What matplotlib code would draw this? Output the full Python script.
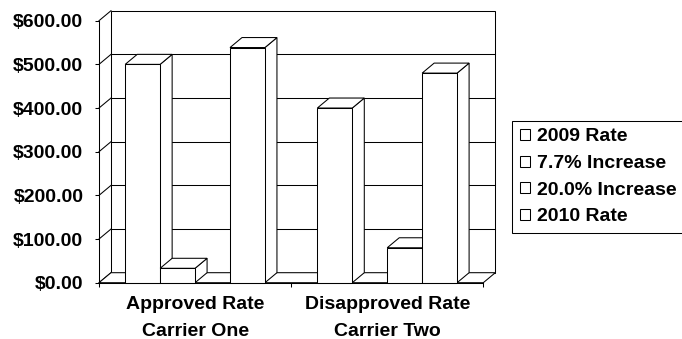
import matplotlib
matplotlib.use("Agg")
import matplotlib.pyplot as plt
from matplotlib.patches import Polygon, Rectangle, Patch
from matplotlib.font_manager import FontProperties

# ---- data -------------------------------------------------------------
categories = [["Approved Rate", "Carrier One"], ["Disapproved Rate", "Carrier Two"]]
series_names = ["2009 Rate", "7.7% Increase", "20.0% Increase", "2010 Rate"]
rate_2009 = [500, 400]
increase_7_7 = [33, 0]
increase_20_0 = [0, 80]
rate_2010 = [538.5, 480]
y_ticks = [0, 100, 200, 300, 400, 500, 600]

series_values = [rate_2009, increase_7_7, increase_20_0, rate_2010]

# ---- figure / axes ----------------------------------------------------
W, H, DPI = 682, 339, 100
fig = plt.figure(figsize=(W / DPI, H / DPI), dpi=DPI)
fig.patch.set_facecolor("white")
ax = fig.add_axes([99 / W, 1 - 282.7 / H, 384.3 / W, 262 / H])
ax.set_xlim(0, len(categories))
ax.set_ylim(y_ticks[0], y_ticks[-1])
ax.patch.set_alpha(0)

font = FontProperties(family="Liberation Sans", weight="bold", size=14)

LW = 0.75
DEPTH_X, DEPTH_Y = 12, 10  # oblique depth, in pixels


def back(x, y):
    px, py = ax.transData.transform((x, y))
    return tuple(ax.transData.inverted().transform((px + DEPTH_X, py + DEPTH_Y)))


xmax = len(categories)
ymax = y_ticks[-1]

# back wall
bx0, by0 = back(0, 0)
bx1, by1 = back(xmax, ymax)
ax.add_patch(Rectangle((bx0, by0), bx1 - bx0, by1 - by0, facecolor="white",
                       edgecolor="black", lw=LW, zorder=0, clip_on=False))
# gridlines on back wall and diagonals on the side wall
for y in y_ticks:
    p0 = back(0, y)
    p1 = back(xmax, y)
    if 0 < y < ymax:
        ax.plot([p0[0], p1[0]], [p0[1], p1[1]], color="black", lw=LW,
                zorder=0.5, clip_on=False)
    ax.plot([0, p0[0]], [y, p0[1]], color="black", lw=LW, zorder=0.5,
            clip_on=False)

# floor
ax.add_patch(Polygon([(0, 0), (xmax, 0), back(xmax, 0), back(0, 0)],
                     closed=True, facecolor="white", edgecolor="black",
                     lw=LW, zorder=1, clip_on=False))

# ---- 3D columns -------------------------------------------------------
n = len(series_values)
gap = 1.5
bw = 1.0 / (n + gap)
z = 2
for g in range(len(categories)):
    for i, vals in enumerate(series_values):
        v = vals[g]
        if v <= 0:
            continue
        x0 = g + gap * bw / 2 + i * bw
        x1 = x0 + bw
        front = Rectangle((x0, 0), bw, v)
        top = Polygon([(x0, v), (x1, v), back(x1, v), back(x0, v)], closed=True)
        side = Polygon([(x1, 0), (x1, v), back(x1, v), back(x1, 0)], closed=True)
        for p in (side, top, front):
            p.set_facecolor("white")
            p.set_edgecolor("black")
            p.set_linewidth(LW)
            p.set_zorder(z)
            p.set_clip_on(False)
            ax.add_patch(p)
        z += 1

# ---- axes decoration --------------------------------------------------
for s in ("top", "right"):
    ax.spines[s].set_visible(False)
for s in ("left", "bottom"):
    ax.spines[s].set_linewidth(LW)
    ax.spines[s].set_zorder(50)

ax.set_yticks(y_ticks)
ax.set_yticklabels([f"${v:,.2f}" for v in y_ticks])
for lab in ax.get_yticklabels():
    lab.set_fontproperties(font)
ax.tick_params(axis="y", direction="out", length=2.9, width=LW, pad=8.4)
ax.set_xticks(range(len(categories) + 1))
ax.set_xticklabels([])
ax.tick_params(axis="x", direction="out", length=3.2, width=LW)

for g, lines in enumerate(categories):
    for k, line in enumerate(lines):
        ax.annotate(line, xy=(g + 0.5, 0), xytext=(0, -18.9 - 19.2 * k),
                    textcoords="offset points", ha="center", va="baseline",
                    fontproperties=font, annotation_clip=False)

handles = [Patch(facecolor="white", edgecolor="black", lw=LW) for _ in series_names]
leg = fig.legend(handles, series_names, loc="upper left",
                 bbox_to_anchor=(512.3 / W, 1 - 120.5 / H),
                 bbox_transform=fig.transFigure, borderaxespad=0,
                 frameon=True, fancybox=False, shadow=False,
                 prop=font, handlelength=0.5, handleheight=0.5,
                 handletextpad=0.36, borderpad=0.4, labelspacing=0.5)
leg.get_frame().set_edgecolor("black")
leg.get_frame().set_linewidth(LW)
leg.get_frame().set_alpha(1)

fig.savefig("out.png", dpi=DPI, facecolor="white")
